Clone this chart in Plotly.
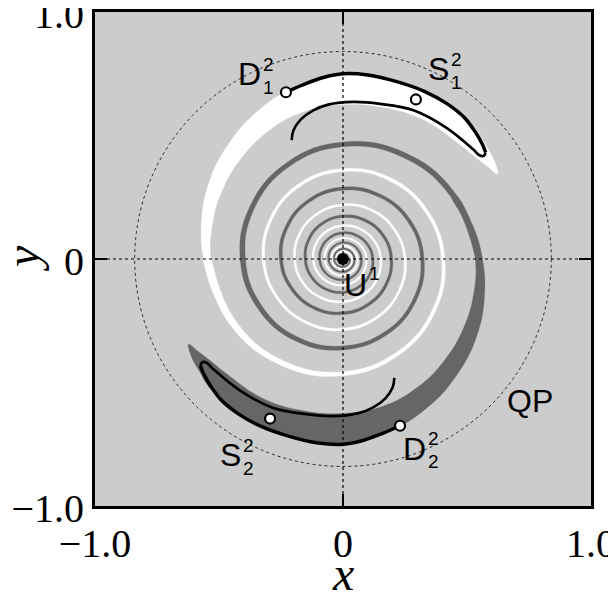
import numpy as np
import plotly.graph_objects as go

# ---------------- data ----------------
# Crescent part of the white arm (polar: angle in degrees, centre radius, band width);
# the dark arm is the same shape rotated by 180 degrees.
crescent_theta_deg = [29, 33, 38, 45, 60, 75, 90, 105, 120, 135, 150, 165, 180, 195, 210]
crescent_radius = [0.712, 0.710, 0.705, 0.705, 0.703, 0.694, 0.687, 0.670, 0.645,
                   0.617, 0.592, 0.568, 0.548, 0.530, 0.514]
crescent_width = [0.000, 0.036, 0.062, 0.090, 0.105, 0.118, 0.123, 0.105, 0.090,
                  0.076, 0.062, 0.045, 0.029, 0.020, 0.014]

# Thin continuation of each arm, winding in towards the centre
spiral_theta_deg = [180, 210, 240, 270, 300, 330, 360, 390, 420, 450, 480, 510, 540,
                    570, 600, 630, 660, 690, 720, 750, 780, 810, 840, 870, 900, 930,
                    960, 990, 1020, 1050, 1080, 1110, 1140, 1170, 1200, 1230, 1260,
                    1290, 1320, 1350, 1380, 1410, 1440, 1470, 1500, 1530, 1560, 1590,
                    1620, 1650, 1680, 1710, 1740, 1770, 1800, 1830, 1860, 1890, 1920,
                    1950, 1980, 2010, 2040, 2070, 2100, 2130, 2160, 2190, 2220, 2250,
                    2280, 2310, 2340]
spiral_radius = [0.548, 0.514, 0.487, 0.464, 0.442, 0.422, 0.404, 0.388, 0.374, 0.360,
                 0.347, 0.333, 0.320, 0.308, 0.296, 0.285, 0.273, 0.261, 0.250, 0.239,
                 0.229, 0.219, 0.210, 0.202, 0.195, 0.188, 0.180, 0.173, 0.166, 0.159,
                 0.152, 0.146, 0.140, 0.135, 0.130, 0.125, 0.120, 0.115, 0.110, 0.106,
                 0.102, 0.098, 0.094, 0.091, 0.087, 0.084, 0.081, 0.077, 0.074, 0.071,
                 0.069, 0.066, 0.063, 0.061, 0.058, 0.056, 0.054, 0.052, 0.050, 0.048,
                 0.046, 0.044, 0.042, 0.041, 0.039, 0.038, 0.036, 0.035, 0.033, 0.032,
                 0.031, 0.030, 0.028]
white_spiral_width = [0.034, 0.027, 0.021, 0.017, 0.015, 0.014, 0.0135, 0.013, 0.013,
                      0.013, 0.012, 0.0115, 0.011, 0.0105, 0.0100, 0.0100, 0.0098,
                      0.0096, 0.0095, 0.0093, 0.0091, 0.0090, 0.0089, 0.0087, 0.0086,
                      0.0085, 0.0084, 0.0084, 0.0083, 0.0082, 0.0082, 0.0081, 0.0080,
                      0.0079, 0.0079, 0.0078, 0.0077, 0.0076, 0.0076, 0.0075, 0.0074,
                      0.0073, 0.0073, 0.0072, 0.0071, 0.0070, 0.0070, 0.0069, 0.0068,
                      0.0067, 0.0067, 0.0066, 0.0065, 0.0064, 0.0064, 0.0063, 0.0062,
                      0.0061, 0.0061, 0.0060, 0.0059, 0.0058, 0.0058, 0.0057, 0.0056,
                      0.0056, 0.0055, 0.0055, 0.0054, 0.0054, 0.0053, 0.0053, 0.0052]
dark_spiral_width = [0.026, 0.023, 0.021, 0.019, 0.019, 0.020, 0.021, 0.020, 0.018,
                     0.016, 0.015, 0.0145, 0.014, 0.0137, 0.0133, 0.0130, 0.0130,
                     0.0130, 0.0130, 0.0127, 0.0124, 0.0120, 0.0117, 0.0113, 0.0110,
                     0.0109, 0.0108, 0.0106, 0.0105, 0.0103, 0.0102, 0.0100, 0.0099,
                     0.0098, 0.0096, 0.0095, 0.0094, 0.0093, 0.0091, 0.0090, 0.0089,
                     0.0087, 0.0086, 0.0085, 0.0083, 0.0082, 0.0081, 0.0080, 0.0078,
                     0.0077, 0.0076, 0.0075, 0.0074, 0.0073, 0.0072, 0.0071, 0.0070,
                     0.0069, 0.0068, 0.0067, 0.0066, 0.0065, 0.0064, 0.0063, 0.0062,
                     0.0062, 0.0061, 0.0060, 0.0060, 0.0059, 0.0059, 0.0058, 0.0058]

# Upper black curve: outer part from D1 round to the tip, then the return part
curve_outer_x = [-0.230, -0.160, -0.080, 0.000, 0.100, 0.217, 0.330, 0.419, 0.490,
                 0.535, 0.562, 0.575]
curve_outer_y = [0.675, 0.706, 0.735, 0.750, 0.745, 0.718, 0.678, 0.629, 0.572,
                 0.512, 0.465, 0.432]
curve_return_x = [0.575, 0.568, 0.550, 0.527, 0.419, 0.284, 0.149, 0.042, -0.060,
                  -0.120, -0.170, -0.200, -0.207]
curve_return_y = [0.432, 0.418, 0.420, 0.442, 0.530, 0.602, 0.628, 0.636, 0.625,
                  0.602, 0.565, 0.520, 0.481]

# Marked points (D1, S1, D2, S2) and the centre U1
open_pts_x = [-0.230, 0.294, 0.230, -0.294]
open_pts_y = [0.675, 0.646, -0.675, -0.646]
centre_x = [0.0]
centre_y = [0.0]

boundary_radius = 0.84

tick_vals = [-1.0, 0.0, 1.0]
tick_text = ["\u22121.0", "0", "1.0"]

# ---------------- build figure ----------------
BG = "#cccccc"
DARK = "#666666"


def band_polygon(theta_deg, radius, width, rotate_deg):
    th = np.radians(np.asarray(theta_deg, float) + rotate_deg)
    r = np.asarray(radius, float)
    w = np.asarray(width, float)
    ro, ri = r + w / 2, r - w / 2
    x = np.concatenate([ro * np.cos(th), (ri * np.cos(th))[::-1]])
    y = np.concatenate([ro * np.sin(th), (ri * np.sin(th))[::-1]])
    return x, y


fig = go.Figure()

for sw, rot, col in [(white_spiral_width, 0, "white"), (dark_spiral_width, 180, DARK)]:
    for th, rr, ww in [(crescent_theta_deg, crescent_radius, crescent_width),
                       (spiral_theta_deg, spiral_radius, sw)]:
        px_, py_ = band_polygon(th, rr, ww, rot)
        fig.add_trace(go.Scatter(x=px_, y=py_, mode="lines", fill="toself",
                                 fillcolor=col,
                                 line=dict(color=col, width=0.3, shape="spline", smoothing=1.2),
                                 hoverinfo="skip", showlegend=False))

for sgn in (1, -1):
    fig.add_trace(go.Scatter(x=[sgn * v for v in curve_outer_x],
                             y=[sgn * v for v in curve_outer_y],
                             mode="lines", line=dict(color="black", width=3.5, shape="spline"),
                             showlegend=False, hoverinfo="skip"))
    fig.add_trace(go.Scatter(x=[sgn * v for v in curve_return_x],
                             y=[sgn * v for v in curve_return_y],
                             mode="lines", line=dict(color="black", width=2.6, shape="spline"),
                             showlegend=False, hoverinfo="skip"))

fig.add_trace(go.Scatter(x=open_pts_x, y=open_pts_y, mode="markers",
                         marker=dict(size=10, color="white", line=dict(color="black", width=2.2)),
                         showlegend=False, hoverinfo="skip"))
fig.add_trace(go.Scatter(x=centre_x, y=centre_y, mode="markers",
                         marker=dict(size=12, color="black"),
                         showlegend=False, hoverinfo="skip"))

# dotted circle and axes cross
fig.add_shape(type="circle", xref="x", yref="y",
              x0=-boundary_radius, y0=-boundary_radius, x1=boundary_radius, y1=boundary_radius,
              line=dict(color="black", width=0.8, dash="dot"), layer="above")
fig.add_shape(type="line", xref="x", yref="y", x0=-1, x1=1, y0=0, y1=0,
              line=dict(color="black", width=1.2, dash="dot"), layer="above")
fig.add_shape(type="line", xref="x", yref="y", x0=0, x1=0, y0=-1, y1=1,
              line=dict(color="black", width=1.2, dash="dot"), layer="above")

# labels: base letter (right-anchored) with stacked superscript / subscript (left-anchored)
SANS = "Liberation Sans, Arial, sans-serif"
BIG, SMALL = 32, 19
base_labels = [("D", -0.327, 0.747), ("S", 0.432, 0.770), ("U", 0.102, -0.105),
               ("S", -0.409, -0.795), ("D", 0.339, -0.770)]
for t, lx, ly in base_labels:
    fig.add_annotation(x=lx, y=ly, xref="x", yref="y", text=t, showarrow=False,
                       font=dict(family=SANS, size=BIG, color="black"),
                       xanchor="right", yanchor="middle", borderpad=0)
sup_labels = [("2", -0.327, 0.750), ("2", 0.432, 0.770), ("1", 0.102, -0.098),
              ("2", -0.409, -0.794), ("2", 0.339, -0.767)]
for t, lx, ly in sup_labels:
    fig.add_annotation(x=lx, y=ly, xref="x", yref="y", text=t, showarrow=False,
                       font=dict(family=SANS, size=SMALL, color="black"),
                       xanchor="left", yanchor="bottom", borderpad=0, yshift=-2)
sub_labels = [("1", -0.327, 0.750), ("1", 0.432, 0.770),
              ("2", -0.409, -0.794), ("2", 0.339, -0.767)]
for t, lx, ly in sub_labels:
    fig.add_annotation(x=lx, y=ly, xref="x", yref="y", text=t, showarrow=False,
                       font=dict(family=SANS, size=SMALL, color="black"),
                       xanchor="left", yanchor="top", borderpad=0, yshift=-2)
fig.add_annotation(x=0.756, y=-0.574, xref="x", yref="y", text="QP", showarrow=False,
                   font=dict(family=SANS, size=BIG, color="black"),
                   xanchor="center", yanchor="middle")

SERIF = "Liberation Serif, Times New Roman, serif"

# axis titles
fig.add_annotation(x=0.5, y=0, xref="paper", yref="paper", text="<i>x</i>",
                   showarrow=False, xanchor="center", yanchor="middle", yshift=-67,
                   borderpad=0, font=dict(family=SERIF, size=48, color="black"))
fig.add_annotation(x=0, y=0.5, xref="paper", yref="paper", text="<i>y</i>",
                   showarrow=False, xanchor="center", yanchor="middle", xshift=-73,
                   textangle=-90, borderpad=0,
                   font=dict(family=SERIF, size=48, color="black"))

axis_common = dict(range=[-1, 1], tickvals=tick_vals, ticktext=tick_text,
                   ticks="inside", ticklen=12, tickwidth=2, tickcolor="black",
                   showline=True, linewidth=3, linecolor="black", mirror="ticks",
                   showgrid=False, zeroline=False, automargin=False,
                   ticklabeloverflow="allow",
                   tickfont=dict(family=SERIF, size=40, color="black"))

# the page body adds an 8 px offset, so the margins are set to compensate
fig.update_layout(
    width=616, height=601,
    margin=dict(l=87, r=33, t=4, b=103),
    paper_bgcolor="white", plot_bgcolor=BG,
    showlegend=False,
    xaxis=dict(**axis_common),
    yaxis=dict(**axis_common, ticklabelshift=2),
)

fig.write_html("out.html")
